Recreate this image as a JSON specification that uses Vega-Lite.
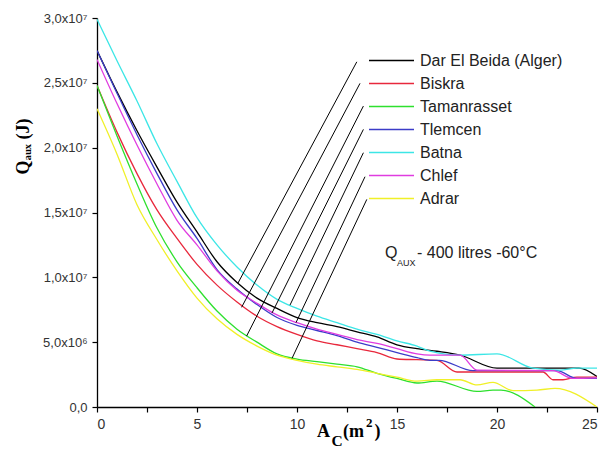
{
  "$schema": "https://vega.github.io/schema/vega-lite/v6.json",
  "width": 500,
  "height": 389,
  "autosize": "none",
  "padding": {"left": 97, "top": 18, "right": 7, "bottom": 43},
  "background": "white",
  "config": {
    "view": {"stroke": null},
    "axis": {"grid": false, "domainColor": "#000", "domainWidth": 1.3, "tickColor": "#000", "tickWidth": 1.2, "tickSize": 5, "labelColor": "#333", "labelFont": "Liberation Sans", "labelFontSize": 13}
  },
  "datasets": {
    "curves": [
      {"s": "Dar El Beida (Alger)", "a": 0, "q": 27500000}, {"s": "Dar El Beida (Alger)", "a": 1, "q": 24300000}, {"s": "Dar El Beida (Alger)", "a": 2, "q": 21300000}, {"s": "Dar El Beida (Alger)", "a": 3, "q": 18500000}, {"s": "Dar El Beida (Alger)", "a": 4, "q": 15800000}, {"s": "Dar El Beida (Alger)", "a": 5, "q": 13500000}, {"s": "Dar El Beida (Alger)", "a": 6, "q": 11200000}, {"s": "Dar El Beida (Alger)", "a": 7, "q": 9600000}, {"s": "Dar El Beida (Alger)", "a": 8, "q": 8400000}, {"s": "Dar El Beida (Alger)", "a": 9, "q": 7600000}, {"s": "Dar El Beida (Alger)", "a": 10, "q": 6900000}, {"s": "Dar El Beida (Alger)", "a": 11, "q": 6500000}, {"s": "Dar El Beida (Alger)", "a": 12, "q": 6200000}, {"s": "Dar El Beida (Alger)", "a": 13, "q": 5800000}, {"s": "Dar El Beida (Alger)", "a": 14, "q": 5400000}, {"s": "Dar El Beida (Alger)", "a": 15, "q": 4800000}, {"s": "Dar El Beida (Alger)", "a": 16, "q": 4500000}, {"s": "Dar El Beida (Alger)", "a": 17, "q": 4300000}, {"s": "Dar El Beida (Alger)", "a": 18.15, "q": 4000000}, {"s": "Dar El Beida (Alger)", "a": 20, "q": 3000000}, {"s": "Dar El Beida (Alger)", "a": 24.1, "q": 3000000}, {"s": "Dar El Beida (Alger)", "a": 25, "q": 2350000},
      {"s": "Biskra", "a": 0, "q": 24800000}, {"s": "Biskra", "a": 1, "q": 21200000}, {"s": "Biskra", "a": 2, "q": 18000000}, {"s": "Biskra", "a": 3, "q": 15200000}, {"s": "Biskra", "a": 4, "q": 13000000}, {"s": "Biskra", "a": 5, "q": 11000000}, {"s": "Biskra", "a": 6, "q": 9400000}, {"s": "Biskra", "a": 7, "q": 8100000}, {"s": "Biskra", "a": 8, "q": 7000000}, {"s": "Biskra", "a": 9, "q": 6200000}, {"s": "Biskra", "a": 10, "q": 5600000}, {"s": "Biskra", "a": 11, "q": 5100000}, {"s": "Biskra", "a": 12, "q": 4800000}, {"s": "Biskra", "a": 13, "q": 4500000}, {"s": "Biskra", "a": 14, "q": 4200000}, {"s": "Biskra", "a": 15, "q": 3700000}, {"s": "Biskra", "a": 16, "q": 3650000}, {"s": "Biskra", "a": 17, "q": 3600000}, {"s": "Biskra", "a": 18, "q": 2700000}, {"s": "Biskra", "a": 22.3, "q": 2700000}, {"s": "Biskra", "a": 22.8, "q": 2100000}, {"s": "Biskra", "a": 23.3, "q": 2100000}, {"s": "Biskra", "a": 24, "q": 2300000}, {"s": "Biskra", "a": 25, "q": 2300000},
      {"s": "Tamanrasset", "a": 0, "q": 24800000}, {"s": "Tamanrasset", "a": 1, "q": 20900000}, {"s": "Tamanrasset", "a": 2, "q": 17200000}, {"s": "Tamanrasset", "a": 3, "q": 13800000}, {"s": "Tamanrasset", "a": 4, "q": 11200000}, {"s": "Tamanrasset", "a": 5, "q": 9200000}, {"s": "Tamanrasset", "a": 6, "q": 7400000}, {"s": "Tamanrasset", "a": 7, "q": 6000000}, {"s": "Tamanrasset", "a": 8, "q": 5000000}, {"s": "Tamanrasset", "a": 9, "q": 4100000}, {"s": "Tamanrasset", "a": 10, "q": 3700000}, {"s": "Tamanrasset", "a": 11, "q": 3500000}, {"s": "Tamanrasset", "a": 12, "q": 3300000}, {"s": "Tamanrasset", "a": 13, "q": 3100000}, {"s": "Tamanrasset", "a": 14, "q": 2600000}, {"s": "Tamanrasset", "a": 15, "q": 2200000}, {"s": "Tamanrasset", "a": 16, "q": 1850000}, {"s": "Tamanrasset", "a": 17, "q": 2000000}, {"s": "Tamanrasset", "a": 19, "q": 1200000}, {"s": "Tamanrasset", "a": 19.8, "q": 1300000}, {"s": "Tamanrasset", "a": 20.2, "q": 1300000}, {"s": "Tamanrasset", "a": 21.9, "q": 0},
      {"s": "Tlemcen", "a": 0, "q": 27500000}, {"s": "Tlemcen", "a": 1, "q": 24200000}, {"s": "Tlemcen", "a": 2, "q": 21000000}, {"s": "Tlemcen", "a": 3, "q": 18000000}, {"s": "Tlemcen", "a": 4, "q": 15200000}, {"s": "Tlemcen", "a": 5, "q": 13000000}, {"s": "Tlemcen", "a": 6, "q": 10600000}, {"s": "Tlemcen", "a": 7, "q": 9100000}, {"s": "Tlemcen", "a": 8, "q": 7900000}, {"s": "Tlemcen", "a": 9, "q": 6900000}, {"s": "Tlemcen", "a": 10, "q": 6300000}, {"s": "Tlemcen", "a": 11, "q": 5900000}, {"s": "Tlemcen", "a": 12, "q": 5500000}, {"s": "Tlemcen", "a": 13, "q": 5000000}, {"s": "Tlemcen", "a": 14, "q": 4600000}, {"s": "Tlemcen", "a": 15, "q": 4200000}, {"s": "Tlemcen", "a": 16, "q": 3800000}, {"s": "Tlemcen", "a": 16.65, "q": 3600000}, {"s": "Tlemcen", "a": 17.1, "q": 3600000}, {"s": "Tlemcen", "a": 18.8, "q": 2800000}, {"s": "Tlemcen", "a": 23, "q": 2800000}, {"s": "Tlemcen", "a": 24, "q": 2200000}, {"s": "Tlemcen", "a": 25, "q": 2200000},
      {"s": "Batna", "a": 0, "q": 29900000}, {"s": "Batna", "a": 1, "q": 26700000}, {"s": "Batna", "a": 2, "q": 23600000}, {"s": "Batna", "a": 3, "q": 20300000}, {"s": "Batna", "a": 4, "q": 17400000}, {"s": "Batna", "a": 5, "q": 14600000}, {"s": "Batna", "a": 6, "q": 12500000}, {"s": "Batna", "a": 7, "q": 10800000}, {"s": "Batna", "a": 8, "q": 9400000}, {"s": "Batna", "a": 9, "q": 8300000}, {"s": "Batna", "a": 10, "q": 7600000}, {"s": "Batna", "a": 11, "q": 7000000}, {"s": "Batna", "a": 12, "q": 6500000}, {"s": "Batna", "a": 13, "q": 6000000}, {"s": "Batna", "a": 14, "q": 5600000}, {"s": "Batna", "a": 15, "q": 5100000}, {"s": "Batna", "a": 16, "q": 4700000}, {"s": "Batna", "a": 16.65, "q": 4300000}, {"s": "Batna", "a": 18.15, "q": 4000000}, {"s": "Batna", "a": 20, "q": 4100000}, {"s": "Batna", "a": 21.8, "q": 3000000}, {"s": "Batna", "a": 23.15, "q": 2850000}, {"s": "Batna", "a": 24, "q": 3000000}, {"s": "Batna", "a": 25, "q": 3000000},
      {"s": "Chlef", "a": 0, "q": 26800000}, {"s": "Chlef", "a": 1, "q": 23400000}, {"s": "Chlef", "a": 2, "q": 20200000}, {"s": "Chlef", "a": 3, "q": 17200000}, {"s": "Chlef", "a": 4, "q": 14400000}, {"s": "Chlef", "a": 5, "q": 12500000}, {"s": "Chlef", "a": 6, "q": 10500000}, {"s": "Chlef", "a": 7, "q": 9000000}, {"s": "Chlef", "a": 8, "q": 8000000}, {"s": "Chlef", "a": 9, "q": 7100000}, {"s": "Chlef", "a": 10, "q": 6500000}, {"s": "Chlef", "a": 11, "q": 6000000}, {"s": "Chlef", "a": 12, "q": 5600000}, {"s": "Chlef", "a": 13, "q": 5200000}, {"s": "Chlef", "a": 14, "q": 4900000}, {"s": "Chlef", "a": 15, "q": 4500000}, {"s": "Chlef", "a": 16, "q": 4100000}, {"s": "Chlef", "a": 16.65, "q": 4000000}, {"s": "Chlef", "a": 18.15, "q": 4000000}, {"s": "Chlef", "a": 19, "q": 2850000}, {"s": "Chlef", "a": 22.8, "q": 2800000}, {"s": "Chlef", "a": 23.8, "q": 2200000}, {"s": "Chlef", "a": 25, "q": 2250000},
      {"s": "Adrar", "a": 0, "q": 23000000}, {"s": "Adrar", "a": 1, "q": 19500000}, {"s": "Adrar", "a": 2, "q": 15600000}, {"s": "Adrar", "a": 3, "q": 12900000}, {"s": "Adrar", "a": 4, "q": 10500000}, {"s": "Adrar", "a": 5, "q": 8400000}, {"s": "Adrar", "a": 6, "q": 6800000}, {"s": "Adrar", "a": 7, "q": 5600000}, {"s": "Adrar", "a": 8, "q": 4700000}, {"s": "Adrar", "a": 9, "q": 4000000}, {"s": "Adrar", "a": 10, "q": 3600000}, {"s": "Adrar", "a": 11, "q": 3300000}, {"s": "Adrar", "a": 12, "q": 3100000}, {"s": "Adrar", "a": 13, "q": 2900000}, {"s": "Adrar", "a": 14, "q": 2600000}, {"s": "Adrar", "a": 15, "q": 2300000}, {"s": "Adrar", "a": 16, "q": 2000000}, {"s": "Adrar", "a": 17, "q": 2100000}, {"s": "Adrar", "a": 18.15, "q": 2100000}, {"s": "Adrar", "a": 19, "q": 1700000}, {"s": "Adrar", "a": 19.8, "q": 1900000}, {"s": "Adrar", "a": 20.8, "q": 1260000}, {"s": "Adrar", "a": 22, "q": 1300000}, {"s": "Adrar", "a": 22.9, "q": 1440000}, {"s": "Adrar", "a": 25, "q": 0}
    ],
    "leaders": [
      {"a1": 12.99, "q1": 26620000, "a2": 7.05, "q2": 9560000},
      {"a1": 13.15, "q1": 24960000, "a2": 7.23, "q2": 7690000},
      {"a1": 13.32, "q1": 23210000, "a2": 7.48, "q2": 5470000},
      {"a1": 13.32, "q1": 21410000, "a2": 8.75, "q2": 7250000},
      {"a1": 13.32, "q1": 19610000, "a2": 9.65, "q2": 7860000},
      {"a1": 13.4, "q1": 17760000, "a2": 9.95, "q2": 6510000},
      {"a1": 13.49, "q1": 16010000, "a2": 9.75, "q2": 3750000}
    ],
    "labels": [
      {"t": "Q", "a": 14.4, "q": 11870000, "size": "big"},
      {"t": "AUX", "a": 15.0, "q": 11100000, "size": "sub"},
      {"t": "- 400 litres -60°C", "a": 16.0, "q": 11870000, "size": "big"}
    ],
    "xtitle": [
      {"t": "A", "a": 11.0, "q": -1930000, "size": "big"},
      {"t": "C", "a": 11.72, "q": -2620000, "size": "sub"},
      {"t": "(m", "a": 12.3, "q": -1930000, "size": "big"},
      {"t": "2", "a": 13.45, "q": -1230000, "size": "sup"},
      {"t": ")", "a": 13.87, "q": -1930000, "size": "big"}
    ]
  },
  "layer": [
    {
      "data": {"name": "curves"},
      "mark": {"type": "line", "strokeWidth": 1.3, "interpolate": "monotone", "clip": true},
      "encoding": {
        "x": {"field": "a", "type": "quantitative", "scale": {"domain": [0, 25], "nice": false},
          "axis": {"title": null, "values": [0, 2.5, 5, 7.5, 10, 12.5, 15, 17.5, 20, 22.5, 25], "labelExpr": "datum.value % 5 == 0 ? format(datum.value, 'd') : ''", "labelPadding": 5, "labelFontSize": 14}},
        "y": {"field": "q", "type": "quantitative", "scale": {"domain": [0, 30000000], "nice": false},
          "axis": {"title": "Qₐᵤₓ (J)", "titleFont": "Liberation Serif", "titleFontWeight": "bold", "titleFontSize": 18, "titleColor": "#000", "titleAngle": -90, "titleX": -74, "titleY": 128, "titleAlign": "center", "titleBaseline": "middle",
            "values": [0, 2500000, 5000000, 7500000, 10000000, 12500000, 15000000, 17500000, 20000000, 22500000, 25000000, 27500000, 30000000],
            "labelExpr": "datum.value == 0 ? '0,0' : (datum.value % 5000000 != 0 ? '' : (datum.value >= 10000000 ? replace(format(datum.value / 10000000, '.1f'), '.', ',') + 'x10⁷' : replace(format(datum.value / 1000000, '.1f'), '.', ',') + 'x10⁶'))",
            "labelPadding": 5}},
        "color": {"field": "s", "type": "nominal",
          "scale": {"domain": ["Dar El Beida (Alger)", "Biskra", "Tamanrasset", "Tlemcen", "Batna", "Chlef", "Adrar"],
                    "range": ["#000000", "#e8283c", "#2ee02e", "#3c3cc8", "#3ce6e6", "#e03ce0", "#f0f028"]},
          "legend": {"title": null, "orient": "none", "legendX": 271, "legendY": 31, "symbolType": "stroke", "symbolSize": 2025, "symbolStrokeWidth": 1.5, "clipHeight": 23, "rowPadding": 0, "labelFontSize": 16, "labelFont": "Liberation Sans", "labelColor": "#222", "labelOffset": 5, "labelLimit": 300}}
      }
    },
    {
      "data": {"name": "leaders"},
      "mark": {"type": "rule", "color": "#000", "strokeWidth": 1},
      "encoding": {
        "x": {"field": "a1", "type": "quantitative"},
        "y": {"field": "q1", "type": "quantitative"},
        "x2": {"field": "a2"},
        "y2": {"field": "q2"}
      }
    },
    {
      "data": {"name": "labels"},
      "mark": {"type": "text", "align": "left", "baseline": "middle", "font": "Liberation Sans", "color": "#222"},
      "encoding": {
        "x": {"field": "a", "type": "quantitative"},
        "y": {"field": "q", "type": "quantitative"},
        "text": {"field": "t"},
        "size": {"field": "size", "type": "nominal", "scale": {"domain": ["big", "sub"], "range": [16, 9]}, "legend": null}
      }
    },
    {
      "data": {"name": "xtitle"},
      "mark": {"type": "text", "align": "left", "baseline": "middle", "font": "Liberation Serif", "fontWeight": "bold", "color": "#000", "clip": false},
      "encoding": {
        "x": {"field": "a", "type": "quantitative"},
        "y": {"field": "q", "type": "quantitative"},
        "text": {"field": "t"},
        "size": {"field": "size", "type": "nominal", "scale": {"domain": ["big", "sub", "sup"], "range": [18, 13, 12]}, "legend": null}
      }
    }
  ],
  "resolve": {"scale": {"size": "independent"}}
}
